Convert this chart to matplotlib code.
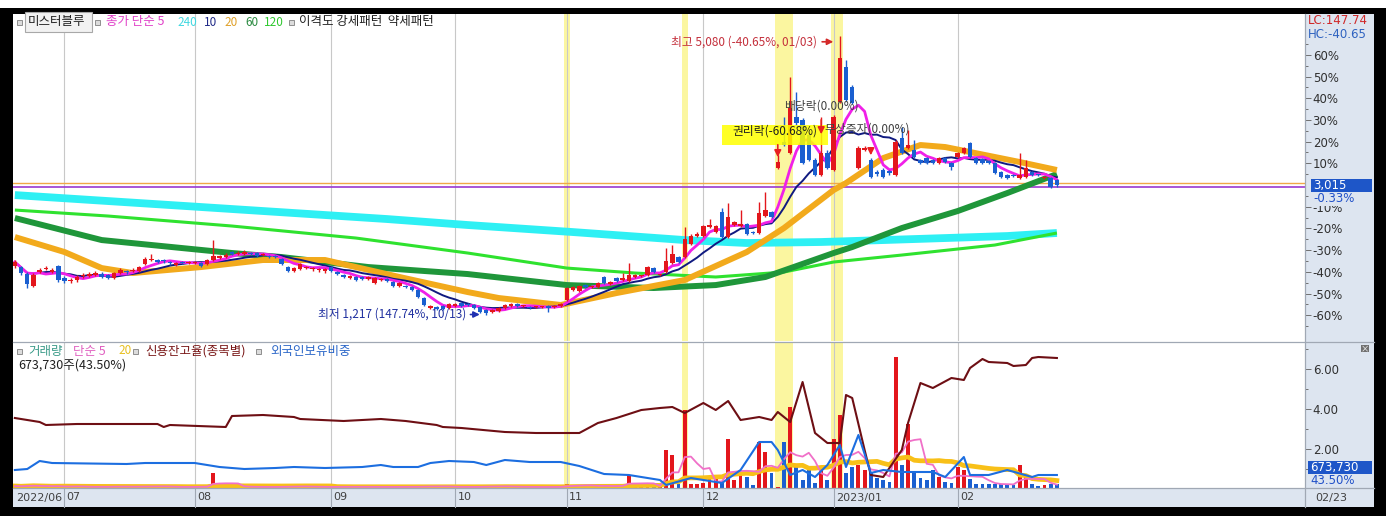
import numpy as np
import pandas as pd
import matplotlib
matplotlib.use('Agg')
import matplotlib.pyplot as plt
import matplotlib.transforms as mtransforms
from matplotlib.patches import Rectangle
from matplotlib.lines import Line2D

plt.rcParams['font.family'] = ['Noto Sans CJK KR', 'DejaVu Sans']
NUM_FONT = ['DejaVu Sans']

# ---- daily candles (won), 2022/06 .. 2023/02/23 ----
opens = [1890, 1876, 1779, 1612, 1807, 1849, 1807, 1890, 1724, 1682,
         1696, 1751, 1751, 1765, 1779, 1765, 1724, 1793, 1821, 1821,
         1821, 1918, 1974, 1974, 1974, 1946, 1904, 1946, 1932, 1932,
         1932, 1918, 1974, 2001, 2015, 2085, 2057, 2057, 2071, 2071,
         2043, 2029, 2029, 1987, 1876, 1821, 1849, 1862, 1849, 1835,
         1821, 1876, 1807, 1765, 1724, 1738, 1738, 1710, 1654, 1696,
         1710, 1668, 1612, 1612, 1599, 1557, 1446, 1307, 1321, 1335,
         1307, 1335, 1376, 1349, 1349, 1321, 1279, 1251, 1265, 1307,
         1335, 1362, 1335, 1321, 1321, 1318, 1335, 1321, 1335, 1418,
         1557, 1543, 1626, 1599, 1599, 1738, 1640, 1724, 1696, 1682,
         1738, 1751, 1765, 1862, 1765, 1807, 1932, 2015, 2015, 2196,
         2307, 2307, 2432, 2362, 2640, 2293, 2460, 2446, 2474, 2362,
         2349, 2585, 2640, 3251, 3613, 3460, 3960, 3918, 3710, 3363,
         3154, 3460, 3224, 4168, 4654, 4377, 3251, 3500, 3363, 3196,
         3224, 3210, 3154, 3668, 3529, 3502, 3363, 3390, 3363, 3321,
         3390, 3321, 3404, 3460, 3599, 3390, 3377, 3349, 3321, 3196,
         3154, 3154, 3113, 3127, 3196, 3154, 3113, 3113, 3085]
highs = [1974, 1890, 1807, 1793, 1862, 1890, 1862, 1904, 1751, 1724,
         1765, 1793, 1807, 1821, 1807, 1779, 1807, 1862, 1835, 1862,
         1890, 2015, 2057, 1987, 1987, 1960, 1946, 1960, 1960, 1960,
         1946, 1987, 2251, 2043, 2071, 2099, 2099, 2112, 2085, 2085,
         2071, 2043, 2043, 2001, 1890, 1876, 1932, 1890, 1876, 1862,
         1862, 1890, 1821, 1779, 1765, 1751, 1751, 1751, 1738, 1724,
         1724, 1682, 1668, 1626, 1612, 1571, 1460, 1349, 1335, 1349,
         1376, 1376, 1390, 1376, 1362, 1335, 1293, 1293, 1321, 1362,
         1376, 1376, 1349, 1335, 1335, 1335, 1349, 1349, 1376, 1599,
         1612, 1626, 1640, 1612, 1668, 1751, 1682, 1738, 1793, 1932,
         1779, 1765, 1890, 1876, 1779, 2140, 2182, 2029, 2432, 2335,
         2362, 2460, 2543, 2460, 2696, 2765, 2515, 2668, 2488, 2376,
         2779, 2918, 2654, 3432, 3960, 4515, 4307, 3946, 3779, 3390,
         3960, 3502, 3988, 5080, 4751, 4404, 3557, 3557, 3390, 3224,
         3251, 3224, 3640, 3821, 3779, 3640, 3377, 3404, 3377, 3404,
         3404, 3335, 3474, 3543, 3613, 3404, 3390, 3363, 3335, 3210,
         3168, 3168, 3460, 3363, 3210, 3168, 3140, 3127, 3099]
lows = [1862, 1765, 1585, 1599, 1793, 1835, 1793, 1668, 1654, 1654,
        1668, 1724, 1738, 1751, 1724, 1710, 1710, 1779, 1779, 1807,
        1807, 1904, 1960, 1932, 1932, 1904, 1890, 1918, 1918, 1918,
        1876, 1904, 1960, 1987, 2001, 2043, 2043, 2043, 2043, 2015,
        2029, 2001, 2001, 1904, 1807, 1807, 1835, 1849, 1821, 1807,
        1793, 1807, 1765, 1724, 1710, 1682, 1696, 1696, 1640, 1682,
        1668, 1599, 1599, 1585, 1543, 1446, 1335, 1293, 1279, 1279,
        1293, 1321, 1321, 1335, 1293, 1237, 1217, 1237, 1251, 1293,
        1321, 1321, 1321, 1293, 1307, 1307, 1251, 1307, 1321, 1404,
        1543, 1529, 1585, 1585, 1585, 1640, 1626, 1668, 1682, 1668,
        1724, 1738, 1751, 1793, 1751, 1793, 1918, 1932, 2001, 2182,
        2293, 2293, 2418, 2349, 2279, 2279, 2446, 2432, 2321, 2335,
        2335, 2571, 2557, 3238, 3557, 3446, 3849, 3307, 3349, 3140,
        3140, 3238, 3210, 4154, 4182, 4140, 3238, 3488, 3113, 3140,
        3113, 3154, 3140, 3446, 3515, 3390, 3307, 3307, 3307, 3307,
        3321, 3224, 3390, 3446, 3390, 3307, 3307, 3307, 3168, 3113,
        3099, 3127, 3099, 3113, 3140, 3140, 3099, 2974, 2988]
closes = [1946, 1793, 1640, 1765, 1835, 1862, 1835, 1696, 1682, 1696,
          1738, 1765, 1779, 1793, 1738, 1724, 1793, 1835, 1807, 1835,
          1876, 1987, 1987, 1946, 1960, 1932, 1932, 1932, 1932, 1946,
          1890, 1974, 2029, 2029, 2043, 2057, 2071, 2085, 2057, 2029,
          2050, 2015, 2015, 1918, 1821, 1862, 1918, 1876, 1855, 1840,
          1849, 1821, 1779, 1738, 1751, 1696, 1710, 1738, 1724, 1700,
          1682, 1612, 1654, 1599, 1557, 1460, 1349, 1335, 1293, 1293,
          1362, 1362, 1335, 1345, 1307, 1251, 1237, 1279, 1307, 1349,
          1362, 1335, 1340, 1307, 1325, 1321, 1307, 1335, 1362, 1585,
          1599, 1612, 1599, 1605, 1654, 1654, 1668, 1682, 1724, 1765,
          1765, 1755, 1876, 1807, 1770, 1960, 2057, 1946, 2265, 2307,
          2335, 2446, 2460, 2446, 2293, 2571, 2501, 2474, 2335, 2349,
          2626, 2668, 2571, 3335, 3571, 4085, 3877, 3321, 3363, 3154,
          3460, 3251, 3960, 4779, 4196, 4154, 3529, 3530, 3127, 3168,
          3127, 3182, 3613, 3460, 3571, 3404, 3321, 3321, 3321, 3390,
          3335, 3265, 3460, 3529, 3404, 3321, 3321, 3321, 3182, 3127,
          3113, 3140, 3154, 3251, 3154, 3150, 3127, 2988, 3015]
volume_k = [340, 255, 425, 510, 255, 170, 200, 425, 300, 200,
            255, 170, 200, 170, 255, 200, 340, 255, 170, 170,
            255, 425, 340, 200, 170, 170, 200, 170, 170, 200,
            255, 300, 2550, 510, 340, 255, 200, 200, 170, 170,
            200, 170, 170, 255, 340, 255, 300, 200, 170, 170,
            170, 200, 200, 255, 200, 200, 170, 170, 200, 170,
            170, 200, 200, 170, 200, 255, 340, 300, 255, 200,
            200, 170, 170, 170, 200, 255, 340, 300, 255, 255,
            200, 170, 170, 170, 170, 170, 200, 170, 200, 680,
            510, 425, 340, 255, 340, 425, 340, 300, 425, 2210,
            510, 340, 510, 340, 255, 6460, 5610, 680, 13260, 680,
            680, 850, 1530, 1700, 850, 8330, 1360, 2210, 1870, 510,
            7820, 6120, 2550, 170, 7820, 13770, 3570, 1360, 3400, 850,
            3400, 1360, 8330, 12410, 2550, 3570, 3910, 3060, 2720, 1700,
            1360, 1020, 22270, 3910, 10880, 2720, 1700, 1360, 3060, 1870,
            1020, 850, 3570, 3060, 1530, 680, 680, 680, 680, 680,
            510, 510, 3910, 2210, 680, 340, 510, 680, 674]

# long moving averages (day index, won)
ma20_idx = [0, 8, 14, 19, 30, 40, 50, 62, 73, 78, 88, 97, 108, 118, 124, 132, 134, 140, 146, 150, 154, 162, 168]
ma20_val = [2293, 2085, 1862, 1793, 1876, 1974, 1974, 1738, 1529, 1446, 1349, 1515, 1696, 2085, 2418, 2946, 3043, 3390, 3571, 3543, 3474, 3335, 3224]
ma60_idx = [0, 14, 35, 43, 57, 73, 89, 103, 113, 121, 132, 135, 143, 152, 160, 168]
ma60_val = [2557, 2251, 2071, 2015, 1876, 1779, 1626, 1585, 1626, 1738, 2071, 2154, 2418, 2654, 2904, 3168]
ma120_idx = [0, 15, 35, 55, 73, 89, 100, 113, 124, 132, 143, 158, 168]
ma120_val = [2668, 2585, 2446, 2279, 2071, 1862, 1793, 1738, 1807, 1946, 2043, 2182, 2349]
ma240_idx = [0, 30, 60, 73, 90, 108, 118, 130, 140, 150, 160, 168]
ma240_val = [2876, 2710, 2543, 2460, 2362, 2251, 2210, 2224, 2251, 2279, 2307, 2349]

# lower panel series
credit_idx = [0, 4, 5, 10, 23, 24, 25, 34, 35, 40, 45, 46, 53, 59, 63, 68, 69, 72, 79, 84,
              91, 94, 97, 101, 104, 106, 108, 111, 113, 115, 117, 120, 122, 123, 125, 127, 129, 131, 133, 134,
              135, 137, 138, 140, 143, 144, 146, 148, 151, 153, 154, 156, 157, 160, 161, 163, 164, 165, 168]
credit_val = [3.55, 3.35, 3.2, 3.25, 3.25, 3.1, 3.2, 3.1, 3.65, 3.7, 3.6, 3.5, 3.4, 3.5, 3.4, 3.2, 3.1, 3.05, 2.85, 2.8,
              2.8, 3.3, 3.55, 3.95, 4.05, 4.1, 3.8, 4.3, 3.95, 4.4, 3.45, 3.6, 3.45, 3.85, 3.35, 5.35, 2.8, 2.3, 2.3, 4.7,
              4.55, 1.95, 0.7, 0.6, 1.95, 3.3, 5.3, 5.05, 5.55, 5.45, 6.05, 6.5, 6.35, 6.3, 6.15, 6.2, 6.55, 6.6, 6.55]
foreign_idx = [0, 2, 4, 6, 18, 21, 29, 31, 33, 37, 42, 45, 50, 56, 59, 61, 65, 67, 70, 74,
               76, 79, 83, 88, 91, 93, 95, 99, 101, 104, 105, 109, 114, 117, 120, 122, 123, 125, 127, 129,
               131, 133, 134, 136, 138, 140, 143, 145, 148, 150, 153, 154, 157, 160, 164, 165, 168]
foreign_val = [44.0, 44.1, 44.9, 44.7, 44.6, 44.7, 44.7, 44.5, 44.3, 44.1, 44.2, 44.3, 44.2, 44.3, 44.5, 44.3, 44.3, 44.7, 44.9, 44.8,
               44.5, 45.0, 44.8, 44.8, 44.4, 44.0, 43.6, 43.5, 43.3, 43.0, 42.5, 43.2, 42.7, 44.0, 46.8, 46.8, 46.0, 43.5, 44.0, 43.3,
               44.5, 46.5, 44.3, 47.5, 43.7, 44.0, 43.8, 43.8, 43.8, 43.3, 45.3, 43.5, 43.5, 44.0, 43.3, 43.5, 43.5]

month_first_idx = [8, 29, 51, 71, 89, 111, 132, 152]
month_labels = ['07', '08', '09', '10', '11', '12', '2023/01', '02']
highlight_days = [89, 108, 123, 124, 125, 132, 133]

base_price = 3015
upper_ref, lower_ref = 3040, 2985
pct_levels = [60, 50, 40, 30, 20, 10, -10, -20, -30, -40, -50, -60]

event_idx = [123, 130, 138]
event_top = [3613, 3960, 3571]
event_tip = [3363, 3682, 3390]

W, H = 1389, 520
fig = plt.figure(figsize=(W / 100, H / 100), dpi=100)
fig.patch.set_facecolor('white')


def fx(x):
    return x / W


def fy(y):
    return 1 - y / H


def frect(x0, y0, x1, y1, z=-10, **kw):
    fig.add_artist(Rectangle((fx(x0), fy(y1)), (x1 - x0) / W, (y1 - y0) / H,
                             transform=fig.transFigure, zorder=z, **kw))


def fline(x0, y0, x1, y1, **kw):
    fig.add_artist(Line2D([fx(x0), fx(x1)], [fy(y0), fy(y1)], transform=fig.transFigure, **kw))


def ftext(x, y, s, **kw):
    kw.setdefault('va', 'center')
    kw.setdefault('fontsize', 9)
    kw.setdefault('zorder', 8)
    fig.text(fx(x), fy(y), s, **kw)


# frame and panel backgrounds
frect(0, 8, 1386, 516, z=-20, facecolor='black', edgecolor='none')
frect(13, 14, 1374, 507, z=-15, facecolor='white', edgecolor='none')
frect(1305, 14, 1374, 488, z=-12, facecolor='#dde5f0', edgecolor='none')
frect(13, 488, 1374, 507, z=-12, facecolor='#dde5f0', edgecolor='none')

idx = np.arange(len(closes))
o = np.array(opens)
c = np.array(closes)
up = c >= o
candle_col = np.where(up, '#e3161c', '#1a5fd0')

# ---------------- price panel ----------------
ax = fig.add_axes([fx(13), fy(341), (1305 - 13) / W, (341 - 14) / H])
ax.set_xlim(-0.3, 208)
ax.set_ylim(849, 5391)
for m in month_first_idx:
    ax.axvline(m, color='#c8c8c8', lw=0.8, zorder=0.5)
for d in highlight_days:
    ax.axvspan(d - 0.5, d + 0.5, color='#fbf6a0', lw=0, zorder=0.4)

ax.axhline(upper_ref, color='#f0a848', lw=1.0, zorder=0.8)
ax.axhline(lower_ref, color='#9a38d0', lw=1.2, zorder=0.8)

ma5 = pd.Series(closes).rolling(5, min_periods=1).mean()
ma10 = pd.Series(closes).rolling(10, min_periods=1).mean()
ax.plot(ma240_idx, ma240_val, color='#2ef0f4', lw=5.6, zorder=1.0, solid_capstyle='butt')
ax.plot(ma120_idx, ma120_val, color='#2fe22f', lw=2.2, zorder=1.1, solid_capstyle='butt')
ax.plot(ma60_idx, ma60_val, color='#1f963a', lw=4.3, zorder=1.2, solid_capstyle='butt')
ax.plot(ma20_idx, ma20_val, color='#f2aa1c', lw=4.3, zorder=1.3, solid_capstyle='butt')
ax.plot(idx, ma10, color='#101a80', lw=1.4, zorder=1.4)
ax.plot(idx, ma5, color='#f020e8', lw=2.0, zorder=1.5)

ax.vlines(idx, lows, highs, colors=candle_col, lw=1.0, zorder=2)
body = np.maximum(np.abs(c - o), 12)
ax.bar(idx, body, bottom=np.minimum(o, c), width=0.72, color=candle_col, lw=0, zorder=2.1)

# high / low annotations
hi_i = int(np.argmax(highs))
hi_p = highs[hi_i]
lo_i = int(np.argmin(lows))
lo_p = lows[lo_i]
ax.annotate('', xy=(hi_i - 0.6, hi_p - 75), xytext=(hi_i - 3.3, hi_p - 75),
            arrowprops=dict(arrowstyle='-|>', color='#d42a2a', lw=1.2, mutation_scale=9), zorder=6)
ax.text(hi_i - 3.6, hi_p - 75, f'최고 {hi_p:,} ({(base_price / hi_p - 1) * 100:.2f}%, 01/03)',
        ha='right', va='center', color='#c4303c', fontsize=8.5, zorder=6)
ax.annotate('', xy=(lo_i - 0.6, lo_p), xytext=(lo_i - 3.0, lo_p),
            arrowprops=dict(arrowstyle='-|>', color='#2030b0', lw=1.2, mutation_scale=9), zorder=6)
ax.text(lo_i - 3.3, lo_p, f'최저 {lo_p:,} ({(base_price / lo_p - 1) * 100:.2f}%, 10/13)',
        ha='right', va='center', color='#2030a0', fontsize=8.5, zorder=6)

# corporate events
for ei, top, tip in zip(event_idx, event_top, event_tip):
    ax.annotate('', xy=(ei, tip), xytext=(ei, top),
                arrowprops=dict(arrowstyle='-|>', color='#e82020', lw=1.2, mutation_scale=10), zorder=6)
ax.add_patch(Rectangle((114.0, 3571), 17.1, 278, facecolor='#ffff00', edgecolor='none', alpha=0.85, zorder=4))
ax.text(122.6, 3765, '권리락(-60.68%)', ha='center', va='center', color='#202020', fontsize=8.5, zorder=7)
ax.text(130.0, 4113, '배당락(0.00%)', ha='center', va='center', color='#404040', fontsize=8.5, zorder=7)
ax.text(130.6, 3800, '무상증자(0.00%)', ha='left', va='center', color='#404040', fontsize=8.5, zorder=7)

ax.set_xticks([])
ax.set_yticks([base_price * (1 + p / 100) for p in pct_levels])
ax.set_yticklabels([f'{p}%' for p in pct_levels])
ax.set_yticks([base_price * (1 + p / 100) for p in range(-65, 75, 5) if p % 10 != 0], minor=True)
ax.yaxis.tick_right()
ax.tick_params(axis='y', which='major', direction='out', length=4, width=0.7, color='#707070',
               labelsize=8.5, labelcolor='#303030', pad=1.5)
ax.tick_params(axis='y', which='minor', direction='out', length=2, width=0.7, color='#707070')
for lbl in ax.get_yticklabels():
    lbl.set_family(NUM_FONT)

# ---------------- lower panel ----------------
ax2 = fig.add_axes([fx(13), fy(488), (1305 - 13) / W, (488 - 342) / H])
ax2.set_xlim(-0.3, 208)
ax2.set_ylim(0, 24820)
for m in month_first_idx:
    ax2.axvline(m, color='#c8c8c8', lw=0.8, zorder=0.5)
for d in highlight_days:
    ax2.axvspan(d - 0.5, d + 0.5, color='#fbf6a0', lw=0, zorder=0.4)
ax2.bar(idx, volume_k, width=0.62, color=candle_col, lw=0, zorder=2)
vol_ma5 = pd.Series(volume_k).rolling(5, min_periods=1).mean()
vol_ma20 = pd.Series(volume_k).rolling(20, min_periods=1).mean()
ax2.plot(idx, vol_ma20, color='#f8c018', lw=3.4, zorder=3)
ax2.plot(idx, vol_ma5, color='#f070c8', lw=1.3, zorder=3.1)
ax2.set_xticks([])
ax2.set_yticks([])

axc = ax2.twinx()
axc.set_ylim(0.05, 7.35)
axc.plot(credit_idx, credit_val, color='#6e0f14', lw=1.5, zorder=4)
axc.set_yticks([2, 4, 6])
axc.set_yticklabels(['2.00', '4.00', '6.00'])
axc.set_yticks([1, 3, 5, 7], minor=True)
axc.tick_params(axis='y', which='major', direction='out', length=4, width=0.7, color='#707070',
                labelsize=8.5, labelcolor='#303030', pad=1.5)
axc.tick_params(axis='y', which='minor', direction='out', length=2, width=0.7, color='#707070')
for lbl in axc.get_yticklabels():
    lbl.set_family(NUM_FONT)

axf = ax2.twinx()
axf.set_ylim(42.2, 56.8)
axf.plot(foreign_idx, foreign_val, color='#1c6ee0', lw=1.5, zorder=4)
axf.set_yticks([])

for a in (ax, ax2, axc, axf):
    for s in a.spines.values():
        s.set_visible(False)

# panel separators
fline(13, 341.5, 1374, 341.5, color='#a0a8b4', lw=0.9)
fline(13, 488, 1374, 488, color='#a0a8b4', lw=0.9)
fline(1305, 14, 1305, 507, color='#a0a8b4', lw=0.9)

# date strip
trans = mtransforms.blended_transform_factory(ax2.transData, fig.transFigure)
for m, lab in zip(month_first_idx, month_labels):
    fig.add_artist(Line2D([m, m], [fy(488), fy(507)], transform=trans, color='#a0a8b4', lw=0.8))
    fig.text(m + 0.35, fy(497.5), lab, transform=trans, va='center', fontsize=8,
             color='#404040', family=NUM_FONT)
ftext(16, 497.5, '2022/06', fontsize=8, color='#404040', family=NUM_FONT)
ftext(1315, 497.5, '02/23', fontsize=8, color='#404040', family=NUM_FONT)

# top legend
frect(25, 12, 92, 32, z=5, facecolor='#f2f2f2', edgecolor='#a8a8a8', lw=0.8)
for sx in (16.5, 95, 289):
    frect(sx, 19.5, sx + 5, 24.5, z=5, facecolor='#dcdcdc', edgecolor='#808080', lw=0.6)
ftext(28, 22, '미스터블루', color='#202020')
ftext(106, 22, '종가 단순 5', color='#e040c8')
ftext(177, 22, '240', color='#40d8e0', fontsize=8.5)
ftext(204, 22, '10', color='#202a88', fontsize=8.5)
ftext(224, 22, '20', color='#e0a028', fontsize=8.5)
ftext(245, 22, '60', color='#2a8a40', fontsize=8.5)
ftext(264, 22, '120', color='#30c830', fontsize=8.5)
ftext(299, 22, '이격도 강세패턴  약세패턴', color='#202020')

ftext(1308, 21, 'LC:147.74', color='#d02828', fontsize=8.5, family=NUM_FONT)
ftext(1308, 35, 'HC:-40.65', color='#2e62c0', fontsize=8.5, family=NUM_FONT)

frect(1311, 179, 1372, 192, z=5, facecolor='#1e56c8', edgecolor='none')
ftext(1313, 185.5, f'{base_price:,}', color='white', fontsize=8.5, family=NUM_FONT)
ftext(1313, 199, '-0.33%', color='#2050c8', fontsize=8.5, family=NUM_FONT,
      bbox=dict(facecolor='#dde5f0', edgecolor='none', pad=0.5))

# lower legend
for sx in (16.5, 133, 256):
    frect(sx, 348.5, sx + 5, 353.5, z=5, facecolor='#dcdcdc', edgecolor='#808080', lw=0.6)
ftext(28, 351, '거래량', color='#3a9a88')
ftext(73, 351, '단순 5', color='#e060c0')
ftext(118, 351, '20', color='#e8c020', fontsize=8.5)
ftext(145, 351, '신용잔고율(종목별)', color='#7a1818')
ftext(270, 351, '외국인보유비중', color='#2a66c8')
ftext(18, 365, '673,730주(43.50%)', color='#202020')

frect(1308, 461, 1372, 474, z=5, facecolor='#1e56c8', edgecolor='none')
ftext(1310, 467.5, '673,730', color='white', fontsize=8.5, family=NUM_FONT)
ftext(1310, 481, '43.50%', color='#2050c8', fontsize=8.5, family=NUM_FONT)
frect(1361, 345, 1369, 352, z=5, facecolor='#707070', edgecolor='none')
ftext(1365, 348.5, '×', color='white', fontsize=6, ha='center')

fig.savefig('out.png', dpi=100)
